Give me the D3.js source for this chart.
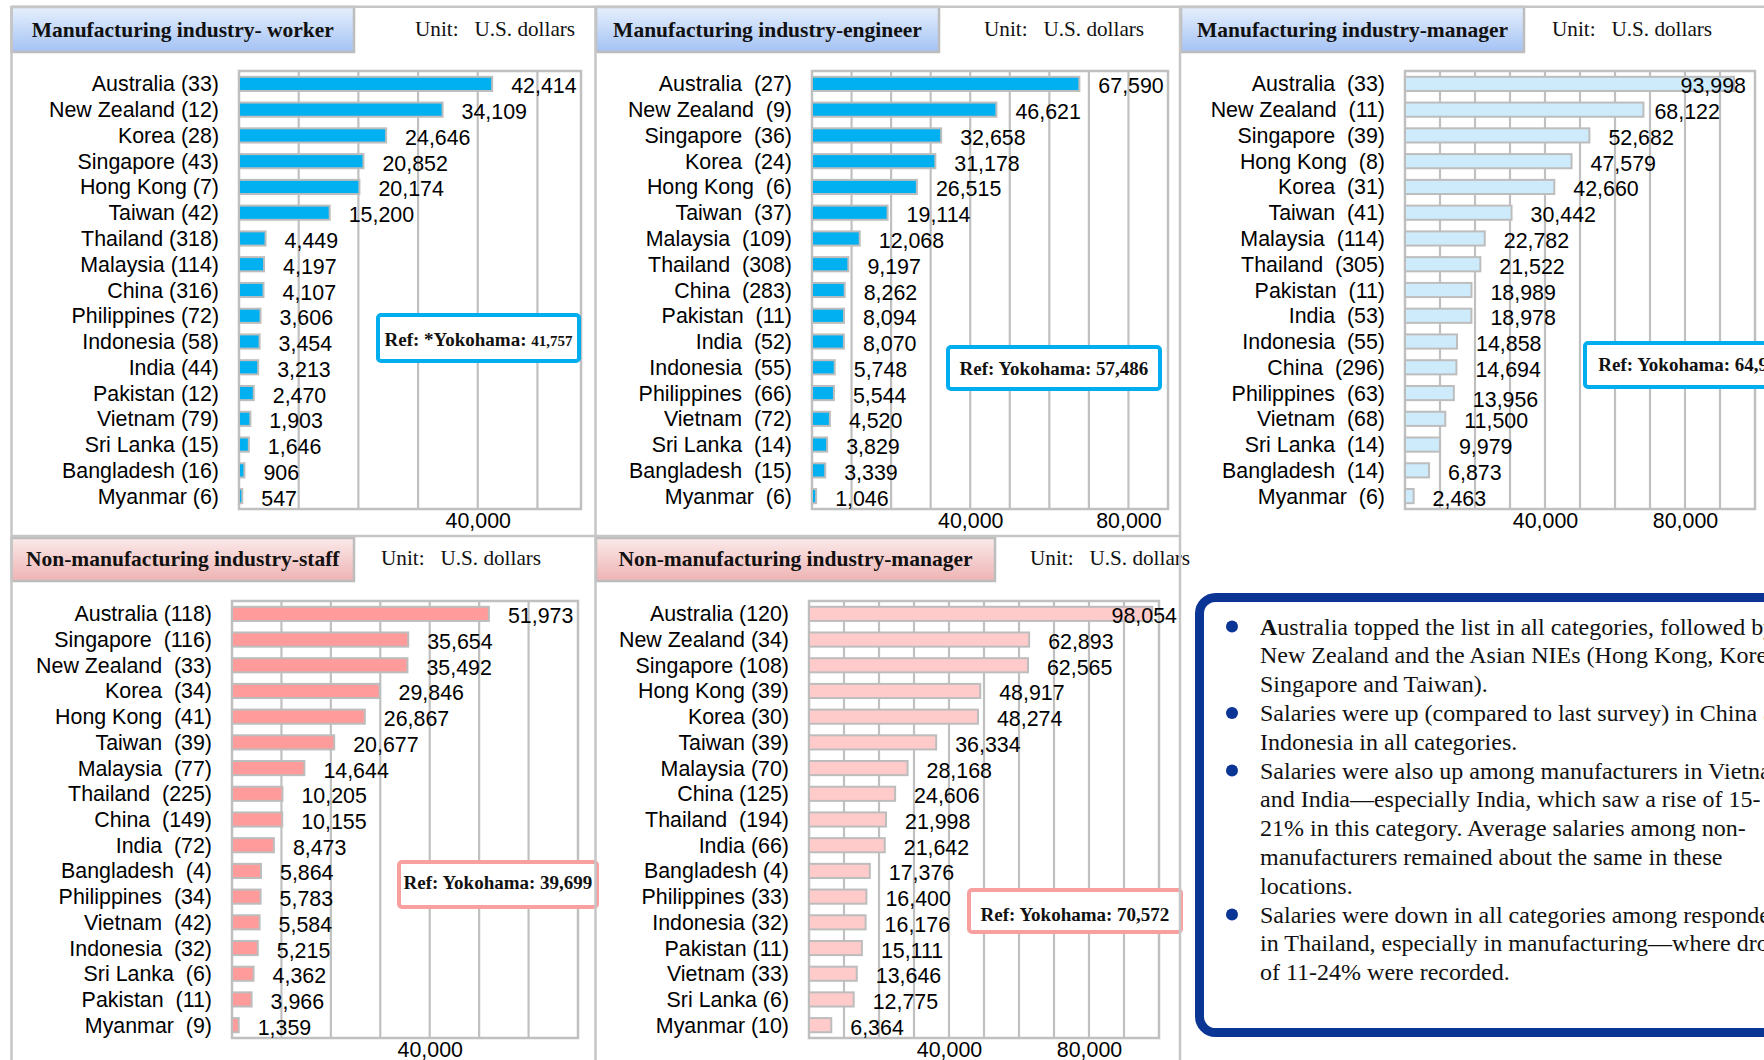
<!DOCTYPE html>
<html><head><meta charset="utf-8">
<script src="https://cdn.jsdelivr.net/npm/d3@7"></script>
<style>
body{margin:0;background:#fff;overflow:hidden;}
svg{display:block;}
text{white-space:pre;}
</style></head><body>
<svg id="chart" width="1764" height="1060"></svg>
<script>
// ---------------- DATA ----------------
const unitLabel = "Unit:   U.S. dollars";
const axisTicks = [40000, 80000];

const workerTitle = "Manufacturing industry- worker";
const workerLabels = ["Australia (33)","New Zealand (12)","Korea (28)","Singapore (43)","Hong Kong (7)","Taiwan (42)","Thailand (318)","Malaysia (114)","China (316)","Philippines (72)","Indonesia (58)","India (44)","Pakistan (12)","Vietnam (79)","Sri Lanka (15)","Bangladesh (16)","Myanmar (6)"];
const workerValues = [42414,34109,24646,20852,20174,15200,4449,4197,4107,3606,3454,3213,2470,1903,1646,906,547];
const workerRef = ["Ref: *Yokohama: ", "41,757"];

const engineerTitle = "Manufacturing industry-engineer";
const engineerLabels = ["Australia  (27)","New Zealand  (9)","Singapore  (36)","Korea  (24)","Hong Kong  (6)","Taiwan  (37)","Malaysia  (109)","Thailand  (308)","China  (283)","Pakistan  (11)","India  (52)","Indonesia  (55)","Philippines  (66)","Vietnam  (72)","Sri Lanka  (14)","Bangladesh  (15)","Myanmar  (6)"];
const engineerValues = [67590,46621,32658,31178,26515,19114,12068,9197,8262,8094,8070,5748,5544,4520,3829,3339,1046];
const engineerRef = ["Ref: Yokohama: 57,486"];

const managerTitle = "Manufacturing industry-manager";
const managerLabels = ["Australia  (33)","New Zealand  (11)","Singapore  (39)","Hong Kong  (8)","Korea  (31)","Taiwan  (41)","Malaysia  (114)","Thailand  (305)","Pakistan  (11)","India  (53)","Indonesia  (55)","China  (296)","Philippines  (63)","Vietnam  (68)","Sri Lanka  (14)","Bangladesh  (14)","Myanmar  (6)"];
const managerValues = [93998,68122,52682,47579,42660,30442,22782,21522,18989,18978,14858,14694,13956,11500,9979,6873,2463];
const managerRef = ["Ref: Yokohama: 64,95"];

const staffTitle = "Non-manufacturing industry-staff";
const staffLabels = ["Australia (118)","Singapore  (116)","New Zealand  (33)","Korea  (34)","Hong Kong  (41)","Taiwan  (39)","Malaysia  (77)","Thailand  (225)","China  (149)","India  (72)","Bangladesh  (4)","Philippines  (34)","Vietnam  (42)","Indonesia  (32)","Sri Lanka  (6)","Pakistan  (11)","Myanmar  (9)"];
const staffValues = [51973,35654,35492,29846,26867,20677,14644,10205,10155,8473,5864,5783,5584,5215,4362,3966,1359];
const staffRef = ["Ref: Yokohama: 39,699"];

const nmManagerTitle = "Non-manufacturing industry-manager";
const nmManagerLabels = ["Australia (120)","New Zealand (34)","Singapore (108)","Hong Kong (39)","Korea (30)","Taiwan (39)","Malaysia (70)","China (125)","Thailand  (194)","India (66)","Bangladesh (4)","Philippines (33)","Indonesia (32)","Pakistan (11)","Vietnam (33)","Sri Lanka (6)","Myanmar (10)"];
const nmManagerValues = [98054,62893,62565,48917,48274,36334,28168,24606,21998,21642,17376,16400,16176,15111,13646,12775,6364];
const nmManagerRef = ["Ref: Yokohama: 70,572"];

const bulletLines = [
  {b:true,  t:"Australia topped the list in all categories, followed by"},
  {b:false, t:"New Zealand and the Asian NIEs (Hong Kong, Korea,"},
  {b:false, t:"Singapore and Taiwan)."},
  {b:true,  t:"Salaries were up (compared to last survey) in China and"},
  {b:false, t:"Indonesia in all categories."},
  {b:true,  t:"Salaries were also up among manufacturers in Vietnam"},
  {b:false, t:"and India\u2014especially India, which saw a rise of 15-"},
  {b:false, t:"21% in this category. Average salaries among non-"},
  {b:false, t:"manufacturers remained about the same in these"},
  {b:false, t:"locations."},
  {b:true,  t:"Salaries were down in all categories among respondents"},
  {b:false, t:"in Thailand, especially in manufacturing\u2014where drops"},
  {b:false, t:"of 11-24% were recorded."}
];

// ---------------- LAYOUT ----------------
const SANS = "'Liberation Sans', Arial, sans-serif";
const SERIF = "'Liberation Serif', 'Times New Roman', serif";
const LINE = "#c6c6c6";
const GRID = "#c0c0c0";
const LABEL_SIZE = 21.4;

const panels = [
  {title: workerTitle, labels: workerLabels, values: workerValues, ref: workerRef,
   grad: "gBlue", tb: [11.5, 7, 342.5, 45], titleY: 37.3, unitX: 415, unitY: 35.5,
   frame: [239, 71, 342, 438], xMax: 57300, fill: "#00b0f0",
   refBox: [378, 315, 201, 46], refY: 345.7, refStroke: "#00aeef", labelMaxX: null, nudge: {}},
  {title: engineerTitle, labels: engineerLabels, values: engineerValues, ref: engineerRef,
   grad: "gBlue", tb: [596, 7, 343, 45], titleY: 37.3, unitX: 984, unitY: 35.5,
   frame: [812, 71, 356, 438], xMax: 90000, fill: "#00b0f0",
   refBox: [948, 347, 212, 42], refY: 374.5, refStroke: "#00aeef", labelMaxX: null, nudge: {}},
  {title: managerTitle, labels: managerLabels, values: managerValues, ref: managerRef,
   grad: "gBlue", tb: [1181, 7, 343, 45], titleY: 37.3, unitX: 1552, unitY: 35.5,
   frame: [1405, 71, 350, 438], xMax: 100000, fill: "#cdebfb",
   refBox: [1585, 343, 206, 44], refY: 371, refStroke: "#00aeef", labelMaxX: 1746, nudge: {1: [-8, 0], 12: [0, 4]}},
  {title: staffTitle, labels: staffLabels, values: staffValues, ref: staffRef,
   grad: "gPink", tb: [11.5, 538, 342.5, 43], titleY: 566, unitX: 381, unitY: 565,
   frame: [232, 601, 346, 437], xMax: 70000, fill: "#ff9b9b",
   refBox: [399, 862, 198, 45], refY: 889, refStroke: "#f8a0a0", labelMaxX: null, nudge: {}},
  {title: nmManagerTitle, labels: nmManagerLabels, values: nmManagerValues, ref: nmManagerRef,
   grad: "gPink", tb: [596, 538, 399, 43], titleY: 566, unitX: 1030, unitY: 565,
   frame: [809, 601, 350, 437], xMax: 100000, fill: "#ffcaca",
   refBox: [969, 890, 212, 42], refY: 920.5, refStroke: "#f8a0a0", labelMaxX: 1177, nudge: {}}
];

const svg = d3.select("#chart");
svg.append("rect").attr("width", 1764).attr("height", 1060).attr("fill", "#fff");

const defs = svg.append("defs");
function grad(id, c0, c1) {
  const lg = defs.append("linearGradient").attr("id", id).attr("x1", 0).attr("y1", 0).attr("x2", 0).attr("y2", 1);
  lg.append("stop").attr("offset", "0%").attr("stop-color", c0);
  lg.append("stop").attr("offset", "100%").attr("stop-color", c1);
}
grad("gBlue", "#e6f0fd", "#a4c2f4");
grad("gPink", "#fbeaea", "#eeb3b3");

const fmt = d3.format(",");

function drawPanel(p) {
  const g = svg.append("g");
  // title box
  g.append("rect").attr("x", p.tb[0]).attr("y", p.tb[1]).attr("width", p.tb[2]).attr("height", p.tb[3])
    .attr("fill", `url(#${p.grad})`).attr("stroke", "#bdbdbd").attr("stroke-width", 2.5);
  g.append("text").attr("x", p.tb[0] + p.tb[2] / 2).attr("y", p.titleY).attr("text-anchor", "middle")
    .attr("font-family", SERIF).attr("font-weight", "bold").attr("font-size", 21.5).attr("fill", "#111")
    .text(p.title);
  g.append("text").attr("x", p.unitX).attr("y", p.unitY).attr("xml:space", "preserve")
    .attr("font-family", SERIF).attr("font-size", 21.2).attr("fill", "#111").text(unitLabel);

  const [fx, fy, fw, fh] = p.frame;
  const x = d3.scaleLinear().domain([0, p.xMax]).range([fx, fx + fw]);
  const y = d3.scaleBand().domain(p.labels).range([fy, fy + fh]).paddingInner(0.45).paddingOuter(0.225);

  // gridlines
  g.selectAll("line.grid").data(d3.range(10000, p.xMax - 1, 10000)).join("line")
    .attr("class", "grid").attr("x1", d => x(d)).attr("x2", d => x(d)).attr("y1", fy).attr("y2", fy + fh)
    .attr("stroke", GRID).attr("stroke-width", 2.2);
  g.append("rect").attr("x", fx).attr("y", fy).attr("width", fw).attr("height", fh)
    .attr("fill", "none").attr("stroke", GRID).attr("stroke-width", 2.5);

  // bars
  g.selectAll("rect.bar").data(p.values).join("rect").attr("class", "bar")
    .attr("x", x(0)).attr("y", (d, i) => y(p.labels[i]))
    .attr("width", d => x(d) - x(0)).attr("height", y.bandwidth())
    .attr("fill", p.fill).attr("stroke", "#bdbdbd").attr("stroke-width", 2);

  // category labels
  g.selectAll("text.cat").data(p.labels).join("text").attr("class", "cat")
    .attr("xml:space", "preserve")
    .attr("x", fx - 20).attr("y", d => y(d) + y.bandwidth() / 2 + 7.5)
    .attr("text-anchor", "end").attr("font-family", SANS).attr("font-size", LABEL_SIZE).attr("fill", "#000")
    .text(d => d);

  // value labels
  g.selectAll("text.val").data(p.values).join("text").attr("class", "val")
    .attr("x", d => x(d) + 19)
    .attr("y", (d, i) => y(p.labels[i]) + y.bandwidth() / 2 + 9.5)
    .attr("font-family", SANS).attr("font-size", LABEL_SIZE).attr("fill", "#000")
    .text(d => fmt(d))
    .each(function (d, i) {
      const w = this.getComputedTextLength();
      let nx = +this.getAttribute("x");
      if (p.labelMaxX && nx + w > p.labelMaxX) nx = p.labelMaxX - w;
      const n = p.nudge[i];
      if (n) { nx += n[0]; this.setAttribute("y", +this.getAttribute("y") + n[1]); }
      this.setAttribute("x", nx);
    });

  // axis
  const axis = d3.axisBottom(x).tickValues(axisTicks.filter(t => t < p.xMax))
    .tickSize(0).tickPadding(3.5).tickFormat(fmt);
  const ag = g.append("g").attr("transform", `translate(0,${fy + fh})`).call(axis);
  ag.select(".domain").remove();
  ag.selectAll("text").attr("font-family", SANS).attr("font-size", LABEL_SIZE).attr("fill", "#000");

  // reference box
  const [rx, ry, rw, rh] = p.refBox;
  g.append("rect").attr("x", rx).attr("y", ry).attr("width", rw).attr("height", rh).attr("rx", 3)
    .attr("fill", "#fff").attr("stroke", p.refStroke).attr("stroke-width", 4);
  const rt = g.append("text").attr("x", rx + rw / 2).attr("y", p.refY).attr("text-anchor", "middle")
    .attr("xml:space", "preserve")
    .attr("font-family", SERIF).attr("font-weight", "bold").attr("font-size", 19).attr("fill", "#111");
  rt.append("tspan").text(p.ref[0]);
  if (p.ref[1]) rt.append("tspan").attr("font-size", 15).text(p.ref[1]);
}

panels.forEach(drawPanel);

// ---------------- commentary box ----------------
const tbx = svg.append("g");
tbx.append("rect").attr("x", 1199.5).attr("y", 597.5).attr("width", 700).attr("height", 435)
  .attr("rx", 16).attr("fill", "#fff").attr("stroke", "#0b3595").attr("stroke-width", 9);
bulletLines.forEach((ln, i) => {
  const by = 634.5 + i * 28.8;
  if (ln.b) tbx.append("circle").attr("cx", 1232).attr("cy", by - 8).attr("r", 6).attr("fill", "#0b3595");
  const t = tbx.append("text").attr("x", 1260).attr("y", by).attr("font-family", SERIF)
    .attr("font-size", 24).attr("fill", "#111");
  if (i === 0) {
    t.append("tspan").attr("font-weight", "bold").text(ln.t.slice(0, 1));
    t.append("tspan").text(ln.t.slice(1));
  } else t.text(ln.t);
});

// ---------------- panel borders ----------------
const borders = [
  [11.5, 6.7, 1764, 6.7],
  [11.5, 6.7, 11.5, 1060],
  [595.5, 6.7, 595.5, 1060],
  [1180, 6.7, 1180, 1060],
  [11.5, 536, 1180, 536]
];
svg.append("g").selectAll("line").data(borders).join("line")
  .attr("x1", d => d[0]).attr("y1", d => d[1]).attr("x2", d => d[2]).attr("y2", d => d[3])
  .attr("stroke", LINE).attr("stroke-width", 2.5);
</script>
</body></html>
